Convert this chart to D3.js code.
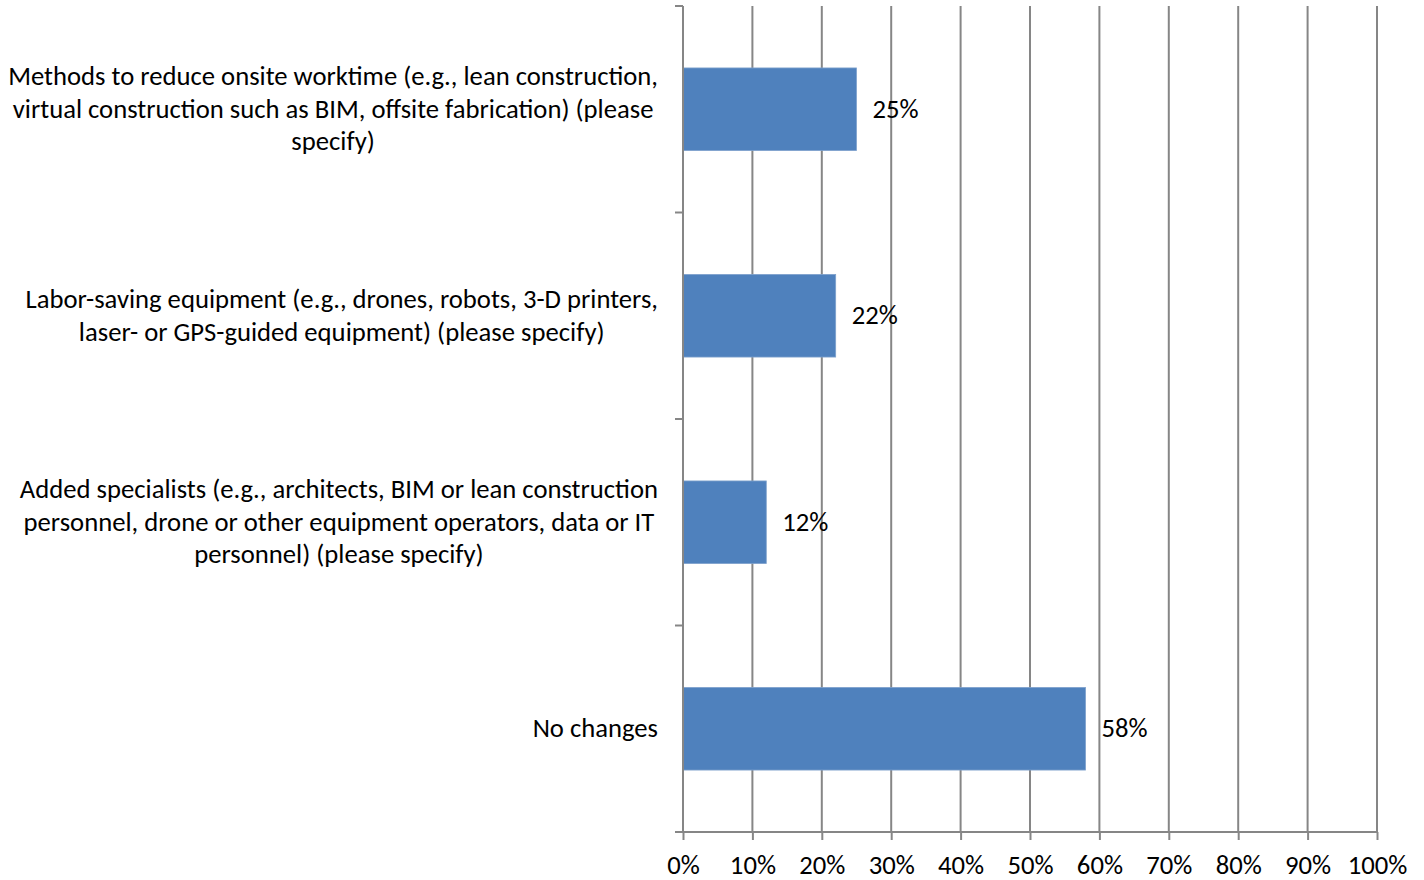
<!DOCTYPE html>
<html>
<head>
<meta charset="utf-8">
<script src="https://cdn.jsdelivr.net/npm/d3@7"></script>
<style>
  body { margin: 0; background: #fff; }
  text { font-family: Carlito, Calibri, Lato, sans-serif; fill: #000; }
</style>
</head>
<body>
<div id="chart"></div>
<script>
// categories (top to bottom), each split into its display lines
var categories = [
    ["Methods to reduce onsite worktime (e.g., lean construction,", "virtual construction such as BIM, offsite fabrication) (please", "specify)"],
    ["Labor-saving equipment (e.g., drones, robots, 3-D printers,", "laser- or GPS-guided equipment) (please specify)"],
    ["Added specialists (e.g., architects, BIM or lean construction", "personnel, drone or other equipment operators, data or IT", "personnel) (please specify)"],
    ["No changes"]
];
var values = [25, 22, 12, 58];
var xTicks = [0, 10, 20, 30, 40, 50, 60, 70, 80, 90, 100];

var W = 1424, H = 880;
var margin = {top: 6, bottom: 48, left: 683, right: 47};
var width = W - margin.left - margin.right;
var height = H - margin.top - margin.bottom;
var fontSize = 26.67;
var gridColor = "#868686";

var svg = d3.select("#chart")
    .append("svg")
    .attr("width", W)
    .attr("height", H);

var g = svg.append("g")
    .attr("transform", "translate(" + margin.left + "," + margin.top + ")");

var x = d3.scaleLinear()
    .domain([0, 100])
    .range([0, width]);

var y = d3.scaleBand()
    .domain(d3.range(categories.length))
    .range([0, height])
    .paddingInner(0.6)
    .paddingOuter(0.3);

// band boundaries for the category ticks
var step = height / categories.length;

// vertical gridlines
g.append("g")
    .selectAll("line")
    .data(xTicks.slice(1))
    .enter()
    .append("line")
    .attr("x1", function(d) { return x(d); })
    .attr("x2", function(d) { return x(d); })
    .attr("y1", 0)
    .attr("y2", height)
    .style("stroke", gridColor)
    .style("stroke-width", 2);

// bars
g.append("g")
    .selectAll("rect")
    .data(values)
    .enter()
    .append("rect")
    .attr("x", 0)
    .attr("y", function(d, i) { return y(i); })
    .attr("width", function(d) { return x(d); })
    .attr("height", y.bandwidth())
    .style("fill", "#4F81BD")
    .style("stroke", "#7EA1CC")
    .style("stroke-width", 0.8);

// bottom axis
var xAxis = g.append("g")
    .attr("transform", "translate(0," + height + ")")
    .call(d3.axisBottom(x)
        .tickValues(xTicks)
        .tickSize(8)
        .tickSizeOuter(0)
        .tickFormat(function(d) { return d + "%"; }));
xAxis.select(".domain").style("stroke", gridColor).style("stroke-width", 2)
    .attr("d", "M-8,0H" + width);
xAxis.selectAll(".tick line").style("stroke", gridColor).style("stroke-width", 2);
xAxis.selectAll(".tick text")
    .attr("y", 25)
    .attr("dy", "0.65em")
    .style("font-size", fontSize + "px")
    .style("font-family", "Carlito, Calibri, Lato, sans-serif")
    .style("fill", "#000");

// left axis with ticks at category boundaries
g.append("line")
    .attr("x1", 0).attr("x2", 0)
    .attr("y1", 0).attr("y2", height)
    .style("stroke", gridColor)
    .style("stroke-width", 2);
g.append("g")
    .selectAll("line")
    .data(d3.range(categories.length))
    .enter()
    .append("line")
    .attr("x1", -8).attr("x2", 0)
    .attr("y1", function(d) { return d * step; })
    .attr("y2", function(d) { return d * step; })
    .style("stroke", gridColor)
    .style("stroke-width", 2);

// value labels
g.append("g")
    .selectAll("text")
    .data(values)
    .enter()
    .append("text")
    .attr("x", function(d) { return x(d) + 16; })
    .attr("y", function(d, i) { return y(i) + y.bandwidth() / 2; })
    .attr("dy", "0.32em")
    .style("font-size", fontSize + "px")
    .text(function(d) { return d + "%"; });

// category labels: centred block, right edge of widest line near the axis
var lineH = 32.5;
var labelRight = -25;
categories.forEach(function(lines, i) {
    var cy = y(i) + y.bandwidth() / 2;
    var t = g.append("text")
        .style("font-size", fontSize + "px")
        .attr("text-anchor", "middle");
    var spans = lines.map(function(line, k) {
        return t.append("tspan")
            .attr("y", cy + (k - (lines.length - 1) / 2) * lineH)
            .attr("dy", "0.32em")
            .text(line);
    });
    var maxW = d3.max(spans, function(s) { return s.node().getComputedTextLength(); });
    spans.forEach(function(s) { s.attr("x", labelRight - maxW / 2); });
});
</script>
</body>
</html>
